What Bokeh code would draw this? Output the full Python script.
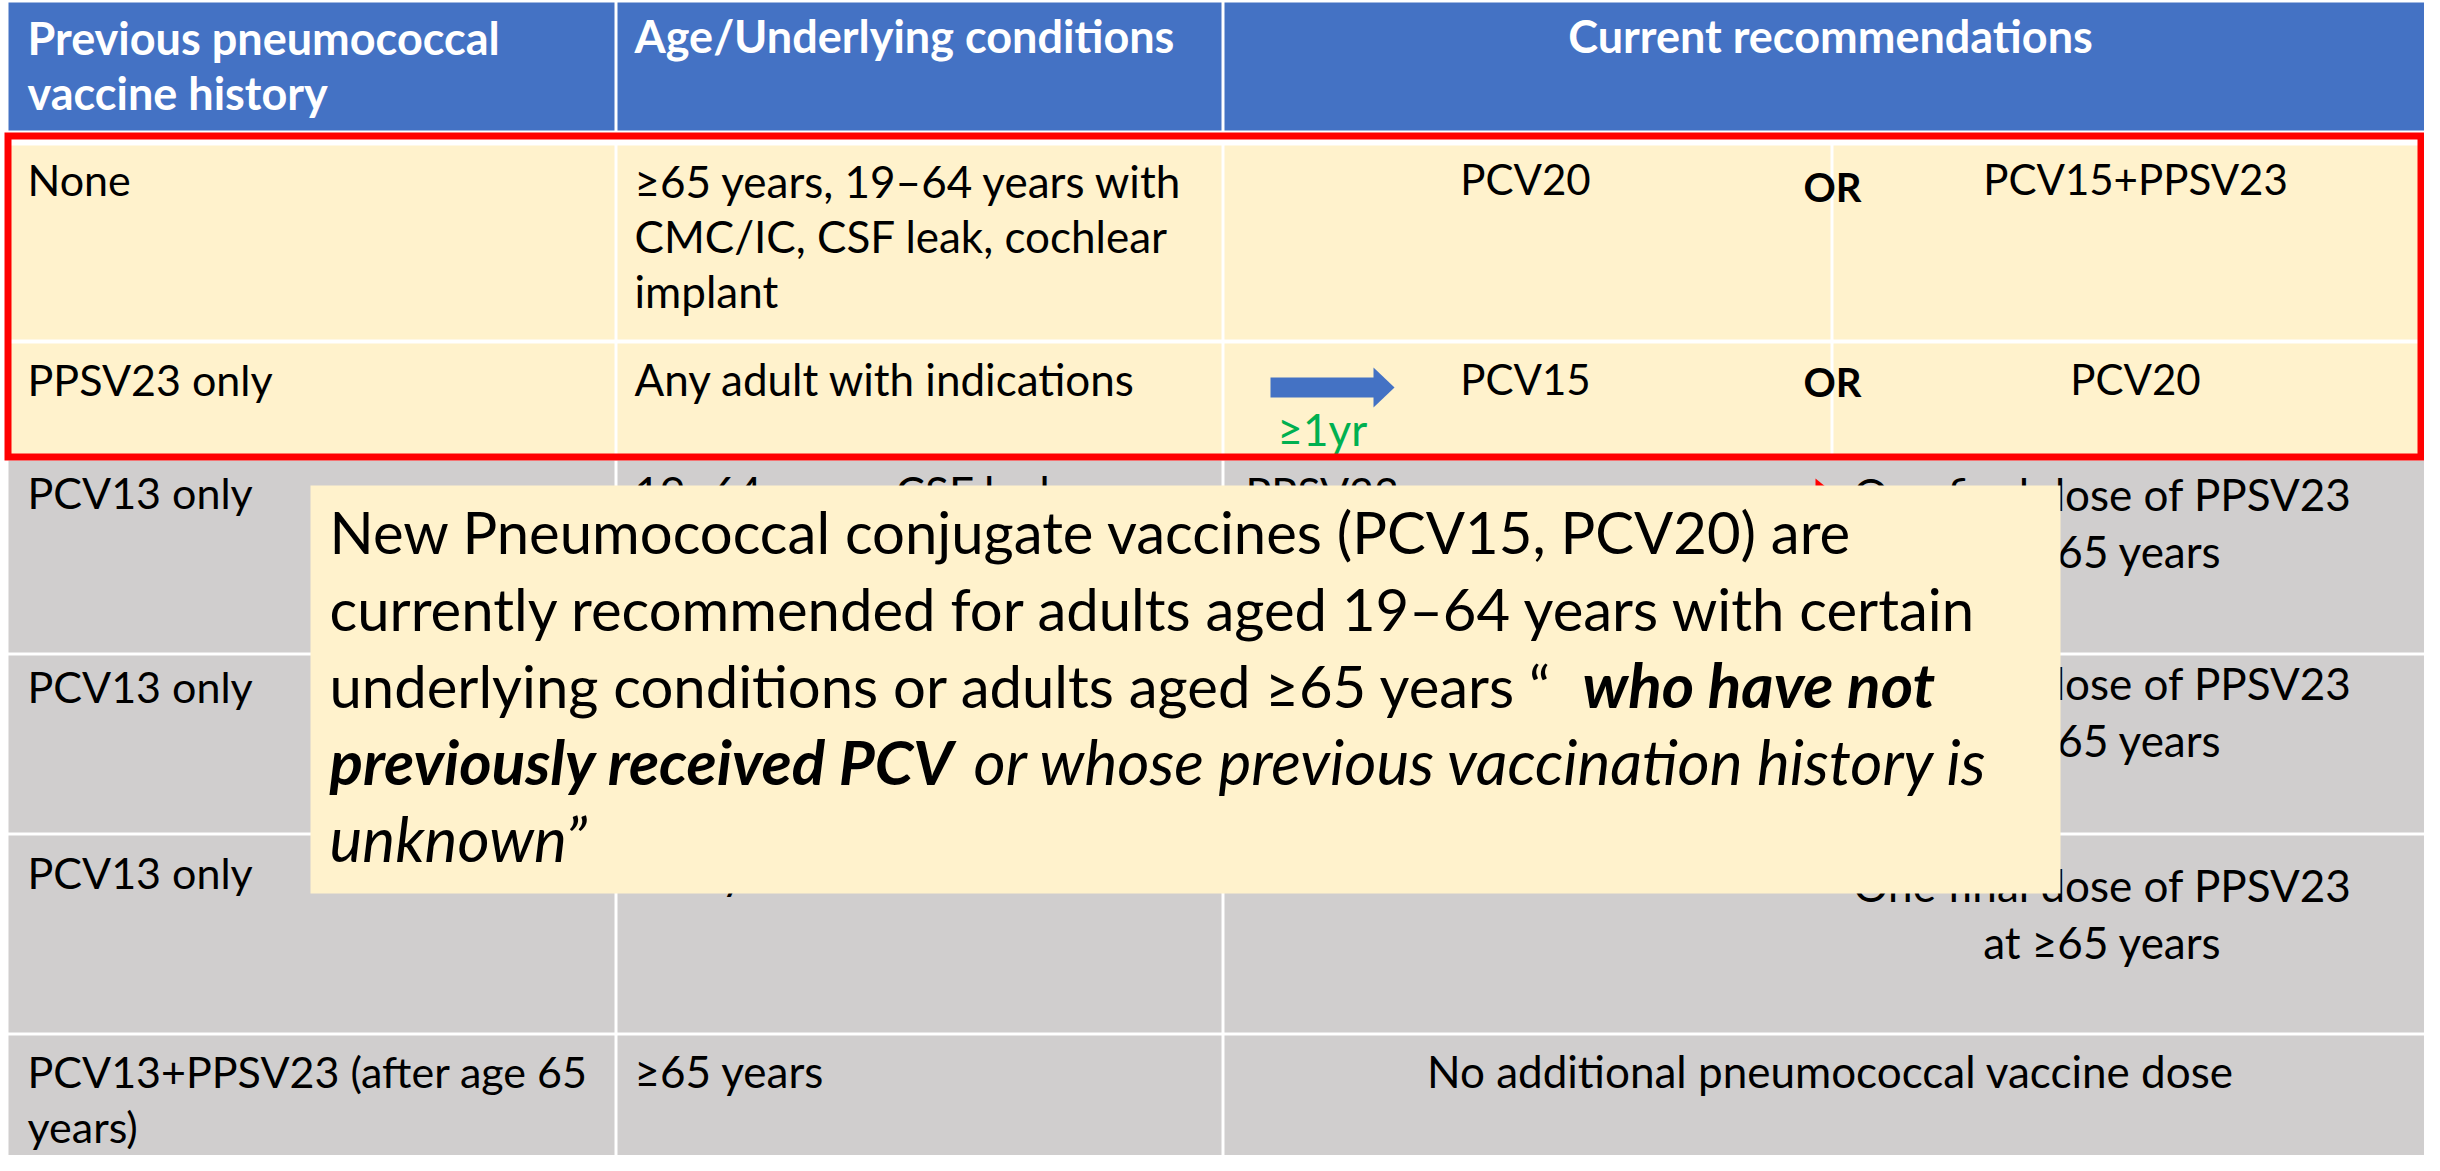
from bokeh.plotting import figure
from bokeh.models import Range1d
from bokeh.core.properties import value
from bokeh.embed import file_html
from bokeh.resources import INLINE

# ---------------- table content ----------------
headers = ["Previous pneumococcal\nvaccine history", "Age/Underlying conditions", "Current recommendations"]
history = ["None", "PPSV23 only", "PCV13 only", "PCV13 only", "PCV13 only",
           "PCV13+PPSV23 (after age 65\nyears)"]
conditions = ["≥65 years, 19–64 years with\nCMC/IC, CSF leak, cochlear\nimplant",
              "Any adult with indications",
              "19–64 years, CSF leak,\ncochlear implant",
              "",
              "≥65 years",
              "≥65 years"]
option_a = ["PCV20", "PCV15"]
option_b = ["PCV15+PPSV23", "PCV20"]
or_word = "OR"
interval_label = "≥1yr"
pcv13_first = "PPSV23"
pcv13_final = "One final dose of PPSV23\nat ≥65 years"
pcv13_final_rows = [2, 3, 4]
no_more = "No additional pneumococcal vaccine dose"

callout_lines = [
    [("New Pneumococcal conjugate vaccines (PCV15, PCV20) are", "normal")],
    [("currently recommended for adults aged 19–64 years with certain", "normal")],
    [("underlying conditions or adults aged ≥65 years “", "normal"), ("who have not", "bold italic")],
    [("previously received PCV", "bold italic"), ("or whose previous vaccination history is", "italic")],
    [("unknown”", "italic")],
]

# ---------------- layout ----------------
FONT = value("Lato")
BLUE = "#4472C4"
CREAM = "#FFF2CC"
GRAY = "#D0CECE"
RED = "#FF0000"
GREEN = "#00B050"

W, H = 2424, 1155
col_edges = [(8, 614), (617, 1221), (1224, 2437)]
row_edges = [(145, 339), (343, 456), (460, 652), (655, 832), (835, 1032), (1035, 1200)]
row_fill = [CREAM, CREAM, GRAY, GRAY, GRAY, GRAY]
row_base = [195, 395, 508, 702, 888, 1087]
LINE = 55

p = figure(width=W, height=H, x_range=Range1d(0, W), y_range=Range1d(H, 0),
           x_axis_type=None, y_axis_type=None, toolbar_location=None,
           output_backend="svg", min_border=0, outline_line_color=None,
           background_fill_color="white", border_fill_color="white")
p.grid.visible = False

# header cells
p.quad(left=[c[0] for c in col_edges], right=[c[1] for c in col_edges],
       top=[2] * 3, bottom=[130] * 3, fill_color=BLUE, line_color=None)

# body cells
L, R, T, B, F = [], [], [], [], []
for ri, (t, b) in enumerate(row_edges):
    for ci, (l, r) in enumerate(col_edges):
        if ri < 2 and ci == 2:
            L += [l, 1833]; R += [1830, r]; T += [t, t]; B += [b, b]; F += [row_fill[ri]] * 2
        else:
            L.append(l); R.append(r); T.append(t); B.append(b); F.append(row_fill[ri])
p.quad(left=L, right=R, top=T, bottom=B, fill_color=F, line_color=None)


def add_text(xs, ys, texts, align="left", size=44, style="normal", color="black"):
    # ys are baselines; texts are drawn vertically centred on their capitals
    mids = [y - 0.36 * size - 1 for y in ys]
    p.text(x=xs, y=mids, text=texts, text_font=FONT, text_font_size=f"{size}px",
           text_font_style=style, text_color=color, text_align=align,
           text_baseline="middle")


def multiline(x, y0, s, gap):
    xs, ys, ts = [], [], []
    for i, line in enumerate(s.split("\n")):
        if line:
            xs.append(x); ys.append(y0 + i * gap); ts.append(line)
    return xs, ys, ts

# header texts
xs, ys, ts = multiline(27, 55, headers[0], 55)
add_text(xs, ys, ts, size=45, style="bold", color="white")
add_text([634], [53], [headers[1]], size=45, style="bold", color="white")
add_text([1830], [53], [headers[2]], align="center", size=45, style="bold", color="white")

# column 1 and 2 texts
X, Y, S = [], [], []
X2, Y2, S2 = [], [], []
for ri in range(len(history)):
    a = multiline(27, row_base[ri], history[ri], LINE)
    b = multiline(634, row_base[ri] + (2 if ri == 0 else 0), conditions[ri], LINE)
    X += a[0]; Y += a[1]; S += a[2]
    X2 += b[0]; Y2 += b[1]; S2 += b[2]
add_text(X, Y, S, size=43)
add_text(X2, Y2, S2, size=44)

# recommendations: options rows
add_text([1525, 1525], [195, 395], option_a, align="center", size=42)
add_text([2135, 2135], [195, 395], option_b, align="center", size=42)
add_text([1832, 1832], [202, 397], [or_word, or_word], align="center", size=40, style="bold")

# blue arrow + interval label
p.quad(left=[1270], right=[1374], top=[377], bottom=[397], fill_color=BLUE, line_color=None)
p.patch(x=[1373, 1394, 1373], y=[367, 387, 407], fill_color=BLUE, line_color=None)
add_text([1277], [445], [interval_label], color=GREEN, size=44)

# PCV13 rows
add_text([1245], [508], [pcv13_first], size=43)
p.patch(x=[1815, 1842, 1815], y=[478, 500, 522], fill_color=RED, line_color=None)
fin_base = {2: 510, 3: 699, 4: 901}
X, Y, S = [], [], []
for ri in pcv13_final_rows:
    a = multiline(2102, fin_base[ri], pcv13_final, 57)
    X += a[0]; Y += a[1]; S += a[2]
add_text(X, Y, S, align="center", size=44)
add_text([1830], [1087], [no_more], align="center", size=44)

# red highlight frame (right side kept inside the drawable area)
p.quad(left=[7.5], right=[2420.5], top=[135.5], bottom=[456.5], fill_alpha=0,
       line_color=RED, line_width=7, line_join="miter")

# callout box
p.quad(left=[310], right=[2060], top=[485], bottom=[893], fill_color=CREAM, line_color=None)
seg_x = {(2, 1): 1582, (3, 1): 973}
for li, segs in enumerate(callout_lines):
    for si, (txt, sty) in enumerate(segs):
        sz = 58 if sty == "normal" else 62
        add_text([seg_x.get((li, si), 329)], [553 + 77 * li], [txt], size=sz, style=sty)

open("out.html", "w").write(file_html(p, INLINE))
